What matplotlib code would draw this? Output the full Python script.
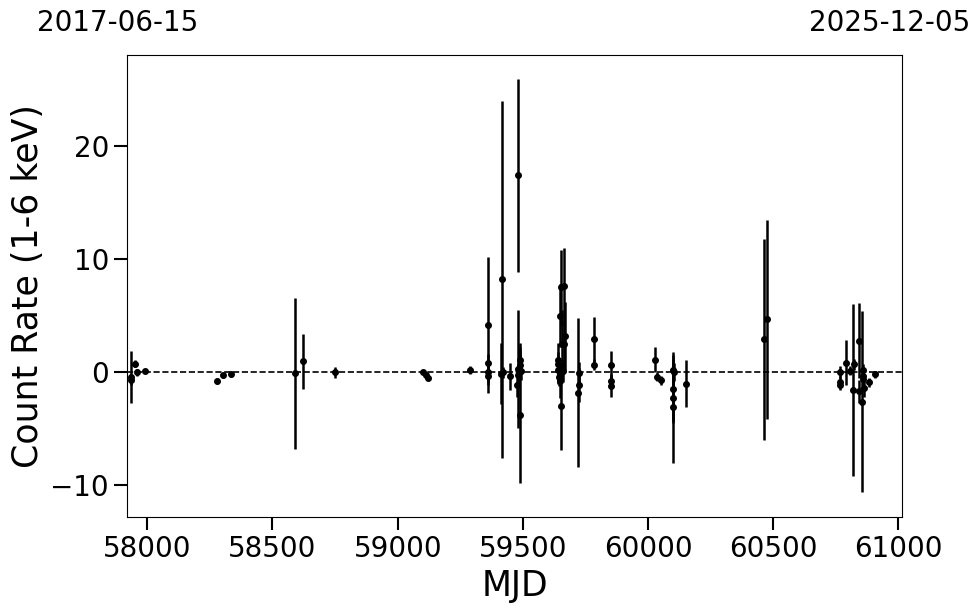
import matplotlib
matplotlib.use("Agg")
import matplotlib.pyplot as plt
import numpy as np

# Light curve points: MJD, count rate (1-6 keV), 1-sigma error
mjd = [
    57934, 57936, 57952, 57959, 57989,
    58277, 58304, 58336, 58589, 58620, 58748,
    59100, 59113, 59121, 59290,
    59359, 59360, 59361, 59362,
    59416, 59413, 59421, 59449,
    59481, 59479, 59478, 59489, 59488, 59490, 59492, 59480,
    59640, 59640, 59642, 59645, 59647, 59650, 59652, 59651, 59666,
    59655, 59670, 59665, 59660,
    59724, 59724, 59720, 59783, 59783, 59850, 59850, 59850,
    60026, 60035, 60051, 60100, 60105, 60098, 60099, 60100, 60152,
    60462, 60476,
    60766, 60766, 60766, 60789, 60808, 60824, 60819, 60841, 60843,
    60856, 60858, 60860, 60858, 60861, 60881, 60907,
]
rate = [
    -0.45, -0.7, 0.77, 0.0, 0.12,
    -0.8, -0.27, -0.18, -0.1, 0.95, 0.0,
    0.0, -0.27, -0.5, 0.18,
    4.2, 0.8, 0.0, -0.35,
    8.2, -0.12, 0.0, -0.35,
    17.4, 0.3, -1.15, -3.8, 1.06, 0.6, 0.1, -0.27,
    1.1, 0.77, 0.2, -0.4, -0.8, 5.0, -3.0, 7.5, 7.6,
    2.5, 3.2, 2.5, 0.1,
    -0.1, -1.15, -1.8, 2.9, 0.68, 0.62, -0.8, -1.2,
    1.12, -0.4, -0.7, 0.2, 0.0, -1.5, -2.3, -3.1, -1.0,
    2.9, 4.7,
    0.03, -0.85, -1.15, 0.86, 0.12, 0.7, -1.6, 2.8, -1.7,
    -2.6, 0.24, -0.3, -0.6, -1.35, -0.9, -0.18,
]
err = [
    2.3, 0.4, 0.3, 0.3, 0.2,
    0.2, 0.2, 0.2, 6.7, 2.4, 0.5,
    0.2, 0.2, 0.2, 0.35,
    6.0, 0.8, 0.8, 0.8,
    15.8, 2.7, 0.5, 1.2,
    8.5, 5.2, 1.0, 6.0, 1.5, 1.0, 0.8, 0.8,
    1.5, 1.0, 1.2, 0.8, 1.5, 2.8, 3.9, 3.3, 3.4,
    3.0, 3.0, 2.0, 1.0,
    1.0, 1.5, 6.6, 2.0, 0.5, 1.3, 0.5, 1.0,
    1.1, 0.4, 0.4, 1.0, 0.8, 3.0, 2.0, 4.9, 2.1,
    8.9, 8.8,
    0.5, 0.5, 0.4, 2.0, 0.4, 0.5, 7.6, 3.3, 1.0,
    8.0, 0.5, 0.5, 0.5, 0.8, 0.4, 0.3,
]

start_label = "2017-06-15"
end_label = "2025-12-05"
mjd_start, mjd_end = 57919, 61014

fig = plt.figure(figsize=(9.8, 6.13), dpi=100)
ax = fig.add_axes([0.1296, 0.1566, 0.7908, 0.7537])

ax.errorbar(mjd, rate, yerr=err, fmt="o", color="black", ms=4, elinewidth=1.8, capsize=0)
ax.axhline(0, color="black", ls="--", lw=1.2)

ax.set_xlim(mjd_start, mjd_end)
ax.set_ylim(-12.8, 28.05)
ax.set_xticks([58000, 58500, 59000, 59500, 60000, 60500, 61000])
ax.set_yticks([-10, 0, 10, 20])

ax.tick_params(axis="both", labelsize=20, length=9.5, width=1.5)
ax.set_xlabel("MJD", fontsize=25)
ax.set_ylabel("Count Rate (1-6 keV)", fontsize=25)

# Start/end dates above the plot
fig.text(118 / 980, 1 - 23 / 613, start_label, fontsize=20, ha="center", va="center")
fig.text(890 / 980, 1 - 23 / 613, end_label, fontsize=20, ha="center", va="center")

fig.savefig("out.png", dpi=100)
